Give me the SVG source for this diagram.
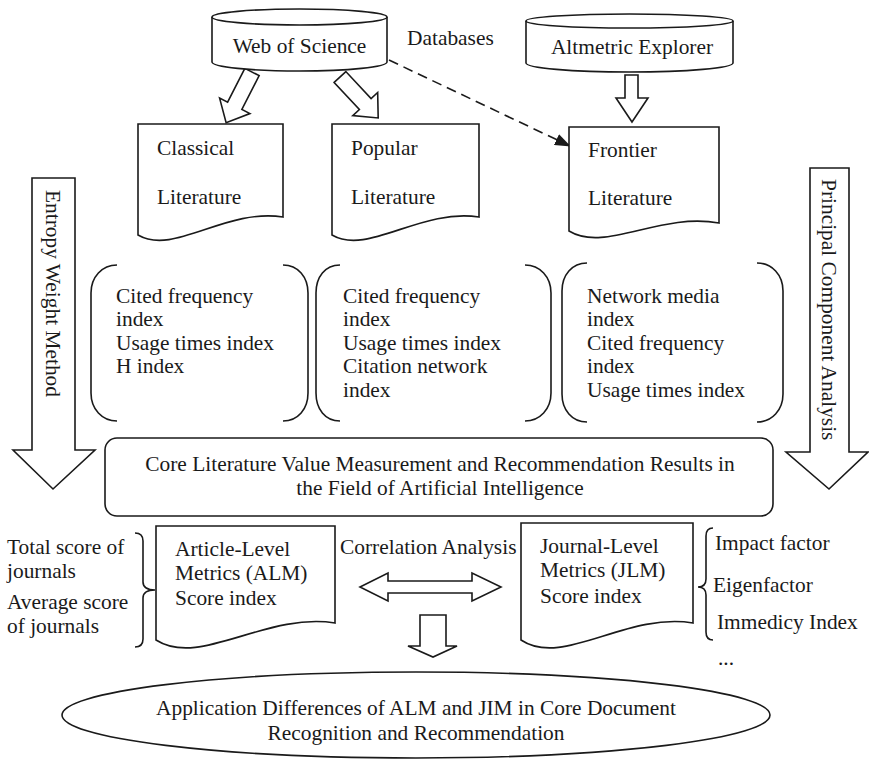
<svg xmlns="http://www.w3.org/2000/svg" width="869" height="759" viewBox="0 0 869 759">
<style>
.s{fill:#fff;stroke:#1a1a1a;stroke-width:1.6;stroke-linejoin:miter}
.n{fill:none;stroke:#1a1a1a;stroke-width:1.6}
text{font-family:"Liberation Serif","Times New Roman",serif;font-size:21.4px;fill:#1a1a1a}
.m{text-anchor:middle}
</style>
<defs>
<marker id="ah2" markerWidth="16" markerHeight="12" refX="15" refY="6" orient="auto" markerUnits="userSpaceOnUse" viewBox="0 0 16 12">
<path d="M0 0 L16 6 L0 12 Z" fill="#1a1a1a"/>
</marker>
</defs>

<g id="connectors">
<path class="s" transform="translate(252,72) rotate(27)" d="M-8 0 H8 V38 H17 L0 57 L-17 38 H-8 Z"/>
<path class="s" transform="translate(340,77) rotate(-43)" d="M-8 0 H8 V37 H17 L0 56 L-17 37 H-8 Z"/>
<path class="n" d="M389 60 L570 146" stroke-dasharray="10 6" stroke-width="2.4" marker-end="url(#ah2)"/>
<path class="s" d="M625 75 H638 V98 H648 L632 122 L616 98 H625 Z"/>
<path class="s" d="M360 587 L388 573 V581 H472 V573 L501 587 L472 601 V593 H388 V601 Z"/>
<path class="s" d="M420 615 H446 V646 H457 L433 657 L408 646 H420 Z"/>
</g>

<g id="entropy">
<path class="s" d="M32 178 H75 V450 H95 L53 489 L13 450 H32 Z"/>
<text transform="translate(46,190) rotate(90)">Entropy Weight Method</text>
</g>

<g id="pca">
<path class="s" d="M810 168 H849 V452 H868 L829 489 L786 452 H810 Z"/>
<text transform="translate(822,179) rotate(90)">Principal Component Analysis</text>
</g>

<g id="wos">
<path class="s" d="M212 17 V62 A87.5 9 0 0 0 387 62 V17"/>
<ellipse class="s" cx="299.5" cy="17" rx="87.5" ry="8"/>
<text class="m" x="299.5" y="53">Web of Science</text>
</g>

<g id="databases-label">
<text x="407" y="45">Databases</text>
</g>

<g id="altmetric">
<path class="s" d="M526 21 V63 A103.5 9 0 0 0 733 63 V21"/>
<ellipse class="s" cx="629.5" cy="21" rx="103.5" ry="7"/>
<text class="m" x="632" y="54">Altmetric Explorer</text>
</g>

<g id="classical">
<path class="s" d="M138 124 H283 V217 C225 208 174 256 138 235 Z"/>
<text x="157" y="155">Classical</text>
<text x="157" y="204">Literature</text>
</g>

<g id="popular">
<path class="s" d="M332 124 H479 V217 C420 208 368 256 332 235 Z"/>
<text x="351" y="155">Popular</text>
<text x="351" y="204">Literature</text>
</g>

<g id="frontier">
<path class="s" d="M569 127 H719 V223 C660 212 605 253 569 231 Z"/>
<text x="588" y="157">Frontier</text>
<text x="588" y="205">Literature</text>
</g>

<g id="box-classical">
<path class="n" d="M117 265 C102 265 91 277 91 293 V393 C91 409 102 421 117 421"/>
<path class="n" d="M283 265 C298 265 308 277 308 293 V393 C308 409 298 421 283 421"/>
<text x="116" y="303">Cited frequency</text>
<text x="116" y="326">index</text>
<text x="116" y="350">Usage times index</text>
<text x="116" y="373">H index</text>
</g>

<g id="box-popular">
<path class="n" d="M340 265 C325 265 316 277 316 293 V393 C316 409 325 421 340 421"/>
<path class="n" d="M525 265 C540 265 551 277 551 293 V393 C551 409 540 421 525 421"/>
<text x="343" y="303">Cited frequency</text>
<text x="343" y="326">index</text>
<text x="343" y="350">Usage times index</text>
<text x="343" y="373">Citation network</text>
<text x="343" y="397">index</text>
</g>

<g id="box-frontier">
<path class="n" d="M587 263 C572 263 562 275 562 291 V394 C562 410 572 422 587 422"/>
<path class="n" d="M757 263 C772 263 783 275 783 291 V394 C783 410 772 422 757 422"/>
<text x="587" y="303">Network media</text>
<text x="587" y="326">index</text>
<text x="587" y="350">Cited frequency</text>
<text x="587" y="373">index</text>
<text x="587" y="397">Usage times index</text>
</g>

<g id="core">
<rect class="s" x="105" y="438" width="668" height="78" rx="12"/>
<text class="m" x="440" y="471">Core Literature Value Measurement and Recommendation Results in</text>
<text class="m" x="440" y="495">the Field of Artificial Intelligence</text>
</g>

<g id="alm-notes">
<path class="n" d="M135 533 Q143 533 143 541 V582 Q143 590 155 590 Q143 590 143 598 V639 Q143 647 135 647"/>
<text x="7" y="554">Total score of</text>
<text x="7" y="578">journals</text>
<text x="7" y="609">Average score</text>
<text x="7" y="633">of journals</text>
</g>

<g id="alm">
<path class="s" d="M156 526 H335 V623 C265 612 200 668 156 640 Z"/>
<text x="175" y="556">Article-Level</text>
<text x="175" y="580">Metrics (ALM)</text>
<text x="175" y="605">Score index</text>
</g>

<g id="correlation-label">
<text x="340" y="554">Correlation Analysis</text>
</g>

<g id="jlm">
<path class="s" d="M521 523 H693 V623 C625 612 563 668 521 640 Z"/>
<text x="540" y="553">Journal-Level</text>
<text x="540" y="577">Metrics (JLM)</text>
<text x="540" y="603">Score index</text>
</g>

<g id="jlm-notes">
<path class="n" d="M713 528 Q706 528 706 536 V579 Q706 587 698 587 Q706 587 706 595 V632 Q706 640 713 640"/>
<text x="715" y="550">Impact factor</text>
<text x="713" y="592">Eigenfactor</text>
<text x="717" y="629">Immedicy Index</text>
<text x="718" y="665">...</text>
</g>

<g id="application">
<ellipse class="s" cx="416" cy="715" rx="354" ry="43"/>
<text class="m" x="416" y="715">Application Differences of ALM and JIM in Core Document</text>
<text class="m" x="416" y="740">Recognition and Recommendation</text>
</g>
</svg>
